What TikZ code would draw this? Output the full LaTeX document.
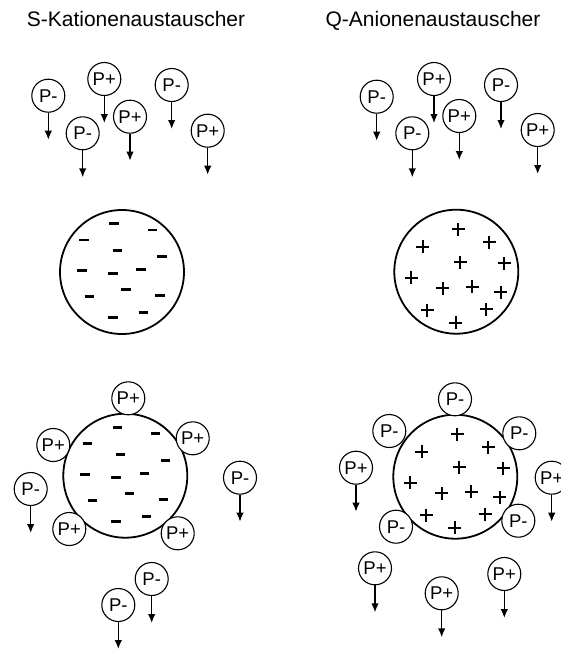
\documentclass[tikz,border=0pt]{standalone}
\usepackage{fontspec}
\setmainfont{Liberation Sans}
\usetikzlibrary{arrows.meta,calc}
\tikzset{
  part/.style={circle, draw, line width=1.1pt, minimum size=33pt, inner sep=0pt, fill=white,
    font=\fontsize{18.5}{18.5}\selectfont},
  fallarr/.style={-{Latex[length=9pt,width=7.5pt]}, line width=1.4pt},
  bead/.style={circle, draw, line width=1.8pt, minimum size=124pt, inner sep=0pt},
  title/.style={anchor=base, font=\fontsize{21}{21}\selectfont, inner sep=0pt},
  negmark/.style={line width=2.6pt},
  posmark/.style={line width=2pt}
}
\newcommand\pfree[4]{\node[part] (#1) at (#2,#3) {#4};}
\newcommand\pfall[4]{\node[part] (#1) at (#2,#3) {#4};
  \coordinate (#1t) at ({#2},{#3+44});
  \draw[fallarr] (#1) -- (#1t);}
\newcommand\negbead[3]{%
  \node[bead] (#1) at (#2,#3) {};
  \foreach \dx/\dy in {-8/-48.3, 30.3/-42, -38/-32, -4.7/-21.3, 40/-15.3, -40.3/-1.3,
      -9.3/1.7, 19/-2.3, 4/17.7, -32.7/24.7, 38/23.7, 21.3/40.7, -9.3/45.7}
    {\draw[negmark] ($(#1)+(\dx-4.8,\dy)$) -- ($(#1)+(\dx+4.8,\dy)$);}}
\newcommand\posbead[3]{%
  \node[bead] (#1) at (#2,#3) {};
  \foreach \dx/\dy in {2/-42.4, 33/-29.4, -33.6/-25, 3.7/-9.4, 47.7/-8.4, -45.3/6,
      -13.6/16.6, 16/15, 44.4/20.6, -29/38.3, 29.7/37.6, -0.6/51}
    {\draw[posmark] ($(#1)+(\dx-6.5,\dy)$) -- ($(#1)+(\dx+6.5,\dy)$)
       ($(#1)+(\dx,\dy-6.5)$) -- ($(#1)+(\dx,\dy+6.5)$);}}
\begin{document}
\begin{tikzpicture}[x=1pt, y=-1pt]
\useasboundingbox (0,0) rectangle (561,649);
% titles
\node[title] (t1) at (136,26.5) {S-Kationenaustauscher};
\node[title] (t2) at (433,26.5) {Q-Anionenaustauscher};
% top left particles
\pfall{tla}{48.3}{95.7}{P-}
\pfall{tlb}{104.3}{79}{P+}
\pfall{tlc}{82.7}{133.3}{P-}
\pfall{tld}{130}{116.7}{P+}
\pfall{tle}{171.7}{85}{P-}
\pfall{tlf}{207.7}{130.7}{P+}
% top right particles
\pfall{tra}{376.7}{96.7}{P-}
\pfall{trb}{434}{79}{P+}
\pfall{trc}{412.3}{133.3}{P-}
\pfall{trd}{459.3}{116}{P+}
\pfall{tre}{501}{85}{P-}
\pfall{trf}{537.7}{130}{P+}
% middle beads
\negbead{ml}{122}{272}
\posbead{mr}{456.3}{271.7}
% bottom beads
\negbead{bl}{125.3}{475.7}
\posbead{br}{455.3}{476.7}
% bottom left particles
\pfree{bla}{128.3}{398.3}{P+}
\pfree{blb}{53.3}{445}{P+}
\pfree{blc}{192.7}{438.3}{P+}
\pfree{bld}{69.3}{529}{P+}
\pfree{ble}{177.7}{533.3}{P+}
\pfall{blf}{30.7}{489}{P-}
\pfall{blg}{240}{477.7}{P-}
\pfall{blh}{151.7}{579}{P-}
\pfall{bli}{118.3}{605}{P-}
% bottom right particles
\pfree{bra}{455}{399.3}{P-}
\pfree{brb}{389.3}{431}{P-}
\pfree{brc}{519.3}{433.3}{P-}
\pfree{brd}{396}{526.7}{P-}
\pfree{bre}{518.3}{520.7}{P-}
\pfall{brf}{356}{467.7}{P+}
\pfall{brg}{551.7}{477.7}{P+}
\pfall{brh}{375}{568.3}{P+}
\pfall{bri}{441.7}{593.3}{P+}
\pfall{brj}{504.3}{574}{P+}
\end{tikzpicture}
\end{document}
